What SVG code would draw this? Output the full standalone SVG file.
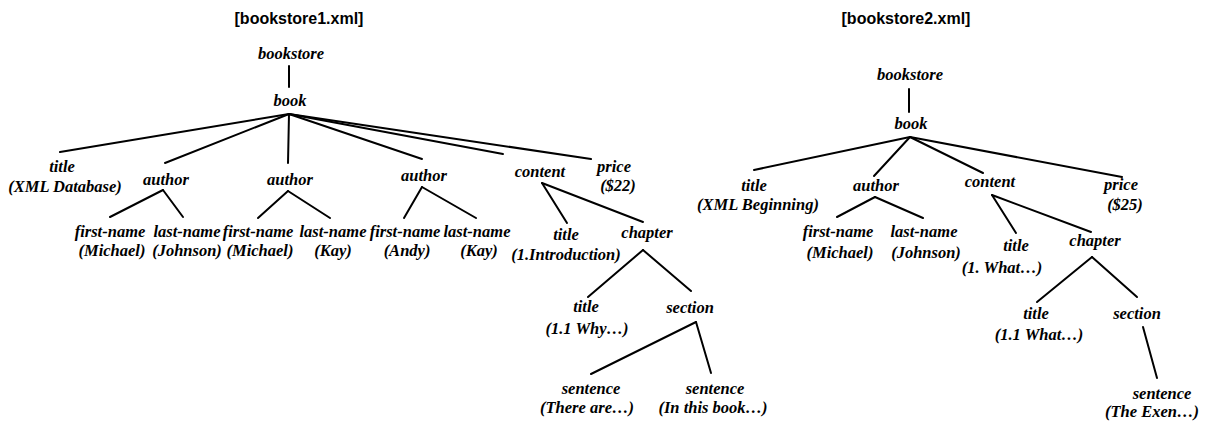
<svg xmlns="http://www.w3.org/2000/svg" width="1215" height="423" viewBox="0 0 1215 423">
<style>
.h{font-family:"Liberation Sans",Arial,sans-serif;font-weight:bold;font-size:16px;text-anchor:middle;fill:#000}
.n{font-family:"Liberation Serif","Times New Roman",serif;font-weight:bold;font-style:italic;font-size:16.5px;text-anchor:middle;fill:#000}
.c line{stroke:#000;stroke-width:2;stroke-linecap:round}
</style>
<rect width="1215" height="423" fill="#fff"/>
<text class="h" x="299" y="24">[bookstore1.xml]</text>
<text class="h" x="906" y="24">[bookstore2.xml]</text>

<g class="c" id="connectors">
<!-- left tree -->
<line x1="289" y1="66" x2="289" y2="87"/>
<line x1="289" y1="114" x2="60" y2="152"/>
<line x1="289" y1="114" x2="165" y2="163"/>
<line x1="289" y1="114" x2="288" y2="163"/>
<line x1="289" y1="114" x2="422" y2="159"/>
<line x1="289" y1="114" x2="503" y2="154"/>
<line x1="289" y1="114" x2="591" y2="159"/>
<line x1="163" y1="190" x2="110" y2="217"/>
<line x1="163" y1="190" x2="183" y2="217"/>
<line x1="288" y1="191" x2="258" y2="218"/>
<line x1="288" y1="191" x2="330" y2="218"/>
<line x1="422" y1="187" x2="404" y2="218"/>
<line x1="422" y1="187" x2="476" y2="218"/>
<line x1="542" y1="183" x2="567" y2="223"/>
<line x1="542" y1="183" x2="643" y2="222"/>
<line x1="643" y1="250" x2="588" y2="297"/>
<line x1="643" y1="250" x2="691" y2="291"/>
<line x1="696" y1="322" x2="591" y2="374"/>
<line x1="696" y1="322" x2="711" y2="373"/>
<!-- right tree -->
<line x1="909" y1="89" x2="909" y2="112"/>
<line x1="910" y1="137" x2="754" y2="170"/>
<line x1="910" y1="137" x2="874" y2="176"/>
<line x1="910" y1="137" x2="983" y2="173"/>
<line x1="910" y1="137" x2="1122" y2="177"/>
<line x1="875" y1="197" x2="837" y2="217"/>
<line x1="875" y1="197" x2="923" y2="218"/>
<line x1="992" y1="195" x2="1016" y2="233"/>
<line x1="992" y1="195" x2="1091" y2="232"/>
<line x1="1092" y1="257" x2="1037" y2="302"/>
<line x1="1092" y1="257" x2="1137" y2="297"/>
<line x1="1143" y1="327" x2="1157" y2="378"/>
</g>

<!-- left tree nodes -->
<g id="l-bookstore"><text class="n" x="291" y="59">bookstore</text></g>
<g id="l-book"><text class="n" x="290" y="106">book</text></g>
<g id="l-title"><text class="n" x="62" y="172">title</text><text class="n" x="65" y="192">(XML Database)</text></g>
<g id="l-author1"><text class="n" x="166" y="185">author</text></g>
<g id="l-author2"><text class="n" x="290" y="185">author</text></g>
<g id="l-author3"><text class="n" x="424" y="181">author</text></g>
<g id="l-content"><text class="n" x="540" y="177">content</text></g>
<g id="l-price"><text class="n" x="614" y="172">price</text><text class="n" x="618" y="191">($22)</text></g>
<g id="l-fn1"><text class="n" x="110" y="237">first-name</text><text class="n" x="112" y="256">(Michael)</text></g>
<g id="l-ln1"><text class="n" x="187" y="237">last-name</text><text class="n" x="187" y="256">(Johnson)</text></g>
<g id="l-fn2"><text class="n" x="258" y="237">first-name</text><text class="n" x="260" y="256">(Michael)</text></g>
<g id="l-ln2"><text class="n" x="333" y="237">last-name</text><text class="n" x="333" y="256">(Kay)</text></g>
<g id="l-fn3"><text class="n" x="405" y="237">first-name</text><text class="n" x="407" y="256">(Andy)</text></g>
<g id="l-ln3"><text class="n" x="477" y="237">last-name</text><text class="n" x="479" y="256">(Kay)</text></g>
<g id="l-ctitle"><text class="n" x="566" y="240">title</text><text class="n" x="566" y="260">(1.Introduction)</text></g>
<g id="l-chapter"><text class="n" x="647" y="238">chapter</text></g>
<g id="l-chtitle"><text class="n" x="586" y="312">title</text><text class="n" x="587" y="334">(1.1 Why…)</text></g>
<g id="l-section"><text class="n" x="690" y="313">section</text></g>
<g id="l-sent1"><text class="n" x="591" y="394">sentence</text><text class="n" x="587" y="413">(There are…)</text></g>
<g id="l-sent2"><text class="n" x="715" y="394">sentence</text><text class="n" x="713" y="413">(In this book…)</text></g>

<!-- right tree nodes -->
<g id="r-bookstore"><text class="n" x="910" y="80">bookstore</text></g>
<g id="r-book"><text class="n" x="911" y="129">book</text></g>
<g id="r-title"><text class="n" x="754" y="191">title</text><text class="n" x="758" y="210">(XML Beginning)</text></g>
<g id="r-author"><text class="n" x="876" y="191">author</text></g>
<g id="r-content"><text class="n" x="990" y="187">content</text></g>
<g id="r-price"><text class="n" x="1121" y="190">price</text><text class="n" x="1125" y="210">($25)</text></g>
<g id="r-fn"><text class="n" x="838" y="237">first-name</text><text class="n" x="840" y="258">(Michael)</text></g>
<g id="r-ln"><text class="n" x="924" y="237">last-name</text><text class="n" x="926" y="258">(Johnson)</text></g>
<g id="r-ctitle"><text class="n" x="1016" y="251">title</text><text class="n" x="1002" y="273">(1. What…)</text></g>
<g id="r-chapter"><text class="n" x="1095" y="246">chapter</text></g>
<g id="r-chtitle"><text class="n" x="1036" y="319">title</text><text class="n" x="1039" y="340">(1.1 What…)</text></g>
<g id="r-section"><text class="n" x="1137" y="319">section</text></g>
<g id="r-sent"><text class="n" x="1162" y="399">sentence</text><text class="n" x="1152" y="417">(The Exen…)</text></g>
</svg>
